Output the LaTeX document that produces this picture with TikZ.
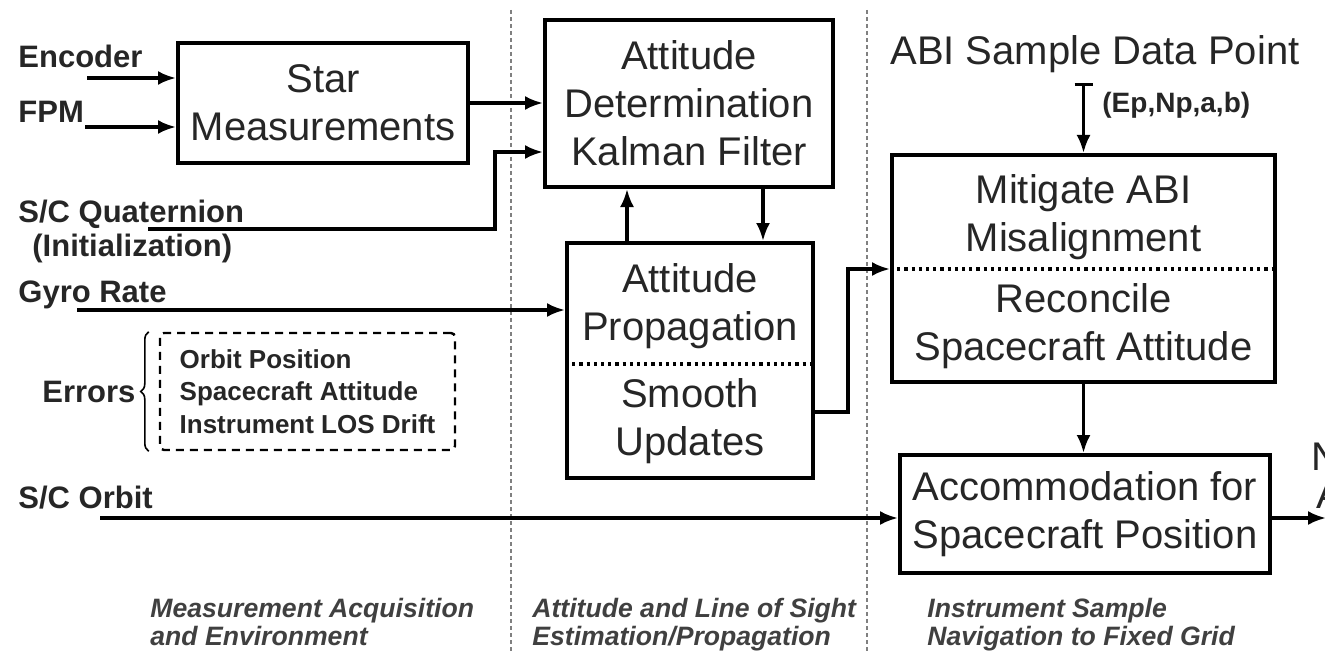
\documentclass[tikz,border=0pt]{standalone}
\usepackage{fontspec}
\setmainfont{Liberation Sans}
\usetikzlibrary{arrows.meta,decorations.pathreplacing}

\begin{document}
\begin{tikzpicture}[x=0.5pt, y=-0.5pt, >={Latex[length=9pt,width=7pt]},
  block/.style={draw, line width=2pt, inner sep=0pt},
  boxtext/.style={align=center, font=\fontsize{20}{24}\selectfont, text=black!85},
  inlabel/.style={anchor=base west, inner sep=0pt, font=\fontsize{15.5}{18}\selectfont\bfseries, text=black!85},
  flow/.style={line width=1.6pt},
  divider/.style={line width=1.6pt, dash pattern=on 1.6pt off 2pt},
  sep/.style={gray, line width=0.6pt, dash pattern=on 2pt off 1.5pt},
  phase/.style={anchor=north west, inner sep=0pt, align=left, font=\fontsize{13.3}{14}\selectfont\bfseries\itshape, text=black!75}]
\useasboundingbox (0,0) rectangle (1325,652);

% phase separators
\draw[sep] (511,10) -- (511,652);
\draw[sep] (867,10) -- (867,652);

% blocks
\node[block, boxtext, minimum width=145pt, minimum height=60pt] (star) at (323,103) {Star\\Measurements};
\node[block, boxtext, minimum width=144pt, minimum height=83.5pt] (adkf) at (689,103.5) {Attitude\\Determination\\Kalman Filter};
\node[block, minimum width=123pt, minimum height=117.5pt] (prop) at (690,360.5) {};
\node[boxtext] (propup) at (690,306) {Attitude\\Propagation};
\node[boxtext] (propdn) at (690,421) {Smooth\\Updates};
\draw[divider] (prop.west |- 0,364) -- (prop.east |- 0,364);
\node[block, minimum width=191.5pt, minimum height=113.5pt] (mitig) at (1083.5,268.5) {};
\node[boxtext] (mitigup) at (1083.5,217.5) {Mitigate ABI\\Misalignment};
\node[boxtext] (mitigdn) at (1083.5,326) {Reconcile\\Spacecraft Attitude};
\draw[divider] (mitig.west |- 0,269) -- (mitig.east |- 0,269);
\node[block, boxtext, minimum width=185pt, minimum height=59pt] (accom) at (1085,514) {Accommodation for\\Spacecraft Position};

% inputs
\node[inlabel] (enc) at (18,68) {Encoder};
\node[inlabel] (fpm) at (18,123) {FPM};
\node[inlabel] (quat) at (18,222) {S/C Quaternion};
\node[inlabel] (init) at (32,256) {(Initialization)};
\node[inlabel] (gyro) at (18,302) {Gyro Rate};
\node[inlabel] (orb) at (18,508) {S/C Orbit};
\node[inlabel] (err) at (42,402) {Errors};
\node[draw, line width=1.2pt, dash pattern=on 4pt off 3pt, rounded corners=2pt, inner sep=0pt,
  minimum width=147.5pt, minimum height=58.5pt, align=left,
  font=\fontsize{13}{16.25}\selectfont\bfseries, text=black!85] (errbox) at (307.5,391.5)
  {Orbit Position\\Spacecraft Attitude\\Instrument LOS Drift};
\draw[decorate, decoration={brace, amplitude=4pt}, line width=0.8pt]
  ([xshift=-5pt]errbox.south west) -- ([xshift=-5pt]errbox.north west);

\coordinate (encin) at (87,78);
\coordinate (fpmin) at (85,127);
\coordinate (quatin) at (148,229);
\coordinate (gyroin) at (77,310);
\coordinate (orbin) at (100,518);

\node[boxtext, anchor=base west, inner sep=0pt] (abi) at (890,65) {ABI Sample Data Point};
\node[inlabel, font=\fontsize{14}{16}\selectfont\bfseries] (epnp) at (1102,113) {(Ep,Np,a,b)};

% connectors
\draw[flow,->] (encin) -- (encin -| star.west);
\draw[flow,->] (fpmin) -- (fpmin -| star.west);
\draw[flow,->] (star.east) -- (star.east -| adkf.west);
\draw[flow,->] (quatin) -| (495,152) -- (adkf.west |- 0,152);
\draw[flow,->] (gyroin) -- (gyroin -| prop.west);
\draw[flow,->] (prop.north -| 627,0) -- (adkf.south -| 627,0);
\draw[flow,->] (adkf.south -| 763,0) -- (prop.north -| 763,0);
\draw[flow,->] (prop.east |- 0,412) -| (848,269) -- (mitig.west |- 0,269);
\draw[flow,{Bar[width=9pt]}->] ([yshift=-4.5pt]abi.south -| mitig.north) -- (mitig.north);
\draw[flow,->] (mitig.south) -- (mitig.south |- accom.north);
\draw[flow,->] (orbin) -- (orbin -| accom.west);
\coordinate (out) at (1326,518);
\draw[flow,->] (accom.east |- out) -- (out);
\node[boxtext, anchor=base west, inner sep=0pt] (nav) at (1311,470) {N};
\node[boxtext, anchor=base west, inner sep=0pt] (nav2) at (1316,508) {A};

% phase names
\node[phase] (ph1) at (150,598) {Measurement Acquisition\\and Environment};
\node[phase] (ph2) at (532,598) {Attitude and Line of Sight\\Estimation/Propagation};
\node[phase] (ph3) at (927,598) {Instrument Sample\\Navigation to Fixed Grid};
\end{tikzpicture}
\end{document}
